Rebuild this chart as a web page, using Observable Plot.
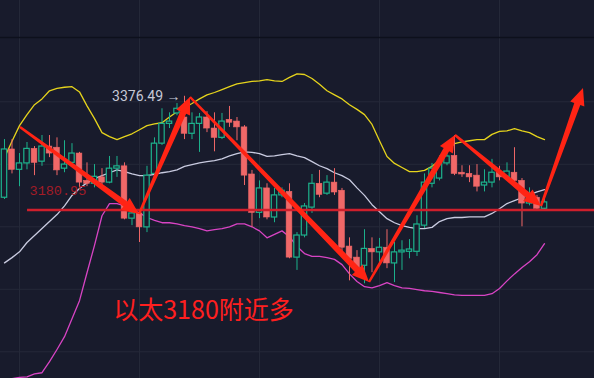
<!DOCTYPE html>
<html><head><meta charset="utf-8">
<script src="https://cdn.jsdelivr.net/npm/d3@7"></script>
<script src="https://cdn.jsdelivr.net/npm/@observablehq/plot@0.6"></script>
<style>html,body{margin:0;padding:0;background:#181b2c;overflow:hidden}</style>
</head><body><div id="chart"></div>
<script>
// Candles (one per bar, left to right)
const open  = [3202,3285,3250,3261,3286,3264,3290,3288,3252,3262,3278,3231,3226,3237,3228,3252,3256,3166,3175,3151,3243,3295,3329,3347,3340,3312,3329,3340,3321,3305,3336,3333,3323,3242,3176,3218,3168,3206,3212,3099,3137,3185,3226,3209,3228,3214,3118,3099,3085,3114,3108,3116,3089,3108,3109,3109,3154,3226,3235,3261,3274,3245,3243,3240,3223,3228,3245,3238,3245,3231,3192,3202,3183];
const high  = [3302,3302,3278,3297,3290,3309,3309,3305,3300,3295,3280,3262,3259,3252,3273,3273,3262,3180,3181,3256,3305,3355,3348,3364,3376.49,3348,3347,3350,3348,3347,3359,3340,3326,3249,3231,3226,3218,3219,3226,3142,3192,3242,3249,3240,3252,3218,3133,3111,3147,3133,3132,3147,3125,3128,3130,3171,3243,3261,3274,3295,3309,3257,3257,3259,3250,3268,3256,3262,3288,3235,3219,3206,3199];
const low   = [3199,3243,3221,3250,3240,3256,3271,3240,3245,3257,3219,3221,3219,3223,3226,3237,3164,3154,3125,3142,3240,3292,3321,3343,3302,3302,3280,3314,3281,3302,3323,3300,3223,3151,3166,3164,3159,3202,3097,3077,3133,3175,3202,3206,3206,3099,3059,3068,3054,3073,3090,3080,3056,3077,3097,3101,3149,3219,3231,3257,3240,3237,3228,3212,3212,3219,3231,3235,3228,3152,3188,3180,3181];
const close = [3285,3250,3261,3286,3262,3290,3278,3249,3259,3278,3228,3226,3238,3228,3252,3256,3166,3175,3151,3240,3295,3329,3333,3355,3312,3329,3340,3321,3305,3333,3331,3323,3240,3176,3218,3168,3206,3214,3099,3137,3187,3226,3207,3228,3211,3116,3097,3080,3114,3108,3116,3089,3108,3111,3113,3156,3228,3252,3261,3273,3243,3242,3237,3221,3228,3245,3237,3247,3231,3192,3202,3183,3194];
// Bollinger bands
const upper  = [3271,3299,3326,3345,3362,3372,3386,3390,3392,3393,3384,3360,3338,3314,3307,3302,3307,3312,3319,3326,3329,3331,3341,3350,3357,3364,3372,3379,3383,3388,3393,3398,3400,3402,3403,3405,3403,3402,3409,3415,3414,3407,3397,3386,3379,3372,3362,3354,3345,3328,3300,3273,3261,3254,3247,3247,3249,3256,3266,3283,3295,3298,3300,3302,3302,3311,3316,3317,3321,3317,3314,3307,3302];
const middle = [3090,3099,3109,3125,3137,3149,3161,3173,3188,3206,3218,3228,3235,3240,3245,3250,3247,3243,3240,3240,3242,3245,3247,3250,3256,3259,3262,3264,3266,3269,3274,3278,3281,3280,3278,3273,3274,3276,3278,3274,3271,3264,3257,3252,3245,3240,3233,3219,3206,3190,3178,3166,3159,3154,3151,3149,3149,3151,3161,3166,3168,3168,3169,3169,3169,3175,3183,3192,3197,3202,3207,3212,3216];
const lower  = [2889,2891,2893,2894,2899,2901,2920,2941,2963,2994,3025,3073,3120,3171,3192,3192,3188,3181,3176,3168,3163,3159,3159,3157,3154,3152,3149,3145,3147,3149,3152,3157,3157,3152,3145,3133,3139,3145,3135,3118,3106,3101,3101,3099,3096,3087,3071,3058,3049,3047,3051,3056,3051,3047,3046,3044,3042,3041,3039,3037,3035,3034,3034,3034,3034,3037,3046,3059,3071,3082,3092,3104,3123];
// Drawn annotations (bar index, price)
const arrowI = [2.13, 18, 24.8, 48.67, 60.13, 71.6, 77.2];
const arrowP = [3322.8, 3173.1, 3374.4, 3056.2, 3309, 3186.9, 3389.9];
const levelPrice = 3180.95, levelStart = 3.07;
const levelLabel = "3180.95";
const peakIndex = 24, peakLabel = "3376.49 →";
const noteText = "以太3180附近多", noteI = 14.5, noteP = 3008;
// Grid
const gridI = [2, 18, 34, 50, 66];
const gridP = [3367, 3259.5, 3152, 3044.5, 2937];
const sepP = 3477.6;
const xDomain = [-0.5333, 78.6667], yDomain = [2891.08, 3541.24];

const BG = "#181b2c", RED = "#f06868", GREEN = "#1db38d";
const candles = open.map((o, i) => ({i, o, h: high[i], l: low[i], c: close[i], up: close[i] >= o}));
const ups = candles.filter(d => d.up), downs = candles.filter(d => !d.up);
const bands = upper.map((u, i) => ({i, u, m: middle[i], lo: lower[i]}));
const segs = arrowI.slice(0, -1).map((x, k) => ({x1: x, y1: arrowP[k], x2: arrowI[k + 1], y2: arrowP[k + 1]}));

function taperedArrows(index, scales) {
  const g = d3.create("svg:g");
  for (const s of segs) {
    const x1 = scales.x(s.x1), y1 = scales.y(s.y1), x2 = scales.x(s.x2), y2 = scales.y(s.y2);
    const dx = x2 - x1, dy = y2 - y1, len = Math.hypot(dx, dy);
    const ux = dx / len, uy = dy / len, nx = -uy, ny = ux;
    const L = 17, hw = 7.5, w0 = 1.2, w1 = 3.2;
    const bx = x2 - ux * L, by = y2 - uy * L;
    const pts = [
      [x1 + nx * w0, y1 + ny * w0], [bx + nx * w1, by + ny * w1], [bx + nx * hw, by + ny * hw],
      [x2, y2],
      [bx - nx * hw, by - ny * hw], [bx - nx * w1, by - ny * w1], [x1 - nx * w0, y1 - ny * w0]
    ];
    g.append("polygon").attr("points", pts.map(p => p.join(",")).join(" ")).attr("fill", "#ff2414");
  }
  return g.node();
}

const chart = Plot.plot({
  width: 594, height: 378, margin: 0,
  style: {background: BG, overflow: "hidden"},
  x: {domain: xDomain, axis: null},
  y: {domain: yDomain, axis: null},
  marks: [
    Plot.ruleX(gridI, {stroke: "#252939", strokeWidth: 1}),
    Plot.ruleY(gridP, {stroke: "#252939", strokeWidth: 1}),
    Plot.ruleY([sepP], {stroke: "#0d101c", strokeWidth: 1.5}),
    Plot.line(bands, {x: "i", y: "u", stroke: "#e6d41c", strokeWidth: 1.3}),
    Plot.line(bands, {x: "i", y: "m", stroke: "#c9cbe0", strokeWidth: 1.3}),
    Plot.line(bands, {x: "i", y: "lo", stroke: "#d844c4", strokeWidth: 1.3}),
    Plot.ruleX(ups, {x: "i", y1: "l", y2: "h", stroke: GREEN, strokeWidth: 1}),
    Plot.ruleX(downs, {x: "i", y1: "l", y2: "h", stroke: RED, strokeWidth: 1}),
    Plot.rect(ups, {x1: d => d.i - 0.36, x2: d => d.i + 0.36, y1: "o", y2: "c", fill: BG, stroke: GREEN, strokeWidth: 1.2}),
    Plot.rect(downs, {x1: d => d.i - 0.38, x2: d => d.i + 0.38, y1: "o", y2: "c", fill: RED, stroke: RED, strokeWidth: 0.6}),
    Plot.ruleY([levelPrice], {x1: levelStart, x2: xDomain[1], stroke: "#cf1f2c", strokeWidth: 2.6}),
    Plot.text([levelPrice], {x: levelStart, y: d => d, text: () => levelLabel, textAnchor: "start", dx: 2, dy: -19, fill: "#a31c27", fontSize: 13.5, fontFamily: "Liberation Mono"}),
    Plot.text([peakIndex], {x: d => d, y: d => high[d], text: () => peakLabel, textAnchor: "end", dx: -4, fill: "#c6c9d6", fontSize: 14, fontFamily: "Roboto"}),
    taperedArrows,
    Plot.text([noteText], {x: noteI, y: noteP, text: d => d, textAnchor: "start", fill: "#ff1f1f", fontSize: 25, fontFamily: "Noto Sans CJK SC"})
  ]
});
document.getElementById("chart").appendChild(chart);
</script>
</body></html>
